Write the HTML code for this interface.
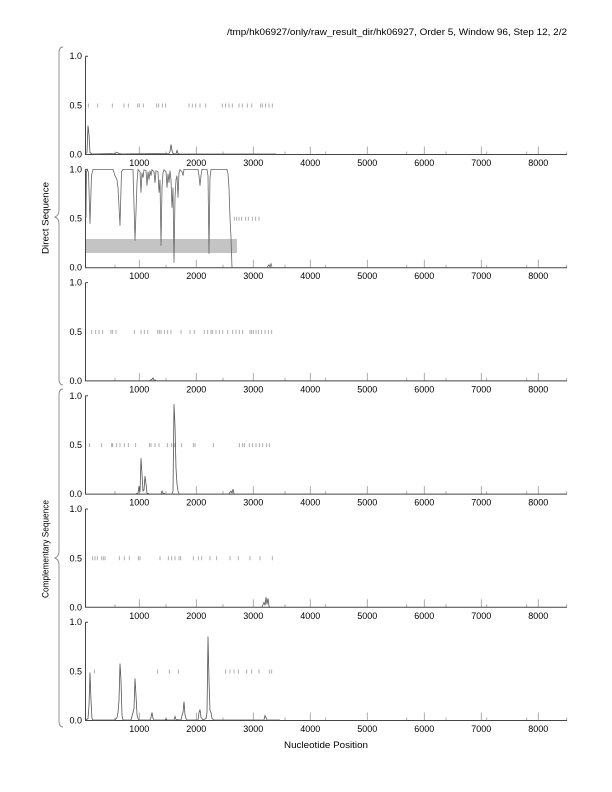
<!DOCTYPE html>
<html><head><meta charset="utf-8"><style>
html,body{margin:0;padding:0;background:#fff;}
svg{display:block;font-family:"Liberation Sans",Arial,sans-serif;}
</style></head><body>
<svg width="612" height="792" viewBox="0 0 612 792" xmlns="http://www.w3.org/2000/svg">
<defs>
<g id="ax">
<path d="M139.3,0v-8M196.3,0v-8M253.3,0v-8M310.3,0v-8M367.3,0v-8M424.3,0v-8M481.3,0v-8M538.3,0v-8" stroke="#999" stroke-width="0.8" fill="none"/>
<path d="M115,0v-3M166,0v-3M223,0v-3M285,0v-3M325.7,0v-3M406.7,0v-3M446,0v-3M486.7,0v-3M526.7,0v-3M566.7,0v-3" stroke="#999" stroke-width="0.8" fill="none"/>
<path d="M85.5,-98.3V0H567M85.5,-98.3H88" stroke="#444" stroke-width="1" fill="none"/>
</g>
</defs>
<text x="567" y="35" font-size="9" text-anchor="end" textLength="340" lengthAdjust="spacingAndGlyphs">/tmp/hk06927/only/raw_result_dir/hk06927, Order 5, Window 96, Step 12, 2/2</text>

<!-- braces -->
<path d="M63,47 Q59,47 59,53 L59,210 Q59,216 54.5,217 Q59,218 59,224 L59,379 Q59,385 63,385" stroke="#888" stroke-width="0.9" fill="none"/>
<path d="M63,389 Q59,389 59,395 L59,551 Q59,557 54.5,558 Q59,559 59,565 L59,721 Q59,727 63,727" stroke="#888" stroke-width="0.9" fill="none"/>
<text transform="translate(48.5,218) rotate(-90)" font-size="9" text-anchor="middle" textLength="72" lengthAdjust="spacingAndGlyphs">Direct Sequence</text>
<text transform="translate(48.5,549) rotate(-90)" font-size="9" text-anchor="middle" textLength="98" lengthAdjust="spacingAndGlyphs">Complementary Sequence</text>
<text x="326" y="748" font-size="9" text-anchor="middle" textLength="84" lengthAdjust="spacingAndGlyphs">Nucleotide Position</text>

<!-- Panel 1 -->
<g transform="translate(0,154.5)">
<use href="#ax"/>
<g font-size="9" text-anchor="end"><text x="82" y="-95.3">1.0</text><text x="82" y="-46">0.5</text><text x="82" y="3">0.0</text></g>
<g font-size="9" text-anchor="middle"><text x="139.3" y="11.5">1000</text><text x="196.3" y="11.5">2000</text><text x="253.3" y="11.5">3000</text><text x="310.3" y="11.5">4000</text><text x="367.3" y="11.5">5000</text><text x="424.3" y="11.5">6000</text><text x="481.3" y="11.5">7000</text><text x="538.3" y="11.5">8000</text></g>
<path d="M88.3,-51v4M97.7,-51v4M112.3,-51v4M124,-51v4M128.3,-51v4M137.7,-51v4M139.3,-51v4M143.3,-51v4M156.7,-51v4M158.7,-51v4M162.3,-51v4M165.7,-51v4M189,-51v4M192.3,-51v4M195.7,-51v4M200,-51v4M205.7,-51v4M222.3,-51v4M225.7,-51v4M229,-51v4M232.3,-51v4M239,-51v4M242.3,-51v4M247.3,-51v4M251.7,-51v4M260.7,-51v4M262.3,-51v4M265.7,-51v4M269,-51v4M272.3,-51v4" stroke="#999" stroke-width="0.8"/>
<path d="M86,-1 L87,-2 L88,-29 L89,-20 L90,-2 L92,-0.5 L115,-1 L117,-2 L119,-1 L122,-0.5 L169,-1 L170,-3 L171,-10 L172,-4 L173,-1 L176,-0.5 L177,-4 L178,-1 L180,-0.5 L276,-0.5" stroke="#555" stroke-width="0.8" fill="none"/>
</g>

<!-- Panel 2 -->
<g transform="translate(0,267.7)">
<rect x="86" y="-28.7" width="151" height="14" fill="#c4c4c4"/>
<use href="#ax"/>
<g font-size="9" text-anchor="end"><text x="82" y="-95.3">1.0</text><text x="82" y="-46">0.5</text><text x="82" y="3">0.0</text></g>
<g font-size="9" text-anchor="middle"><text x="139.3" y="11.5">1000</text><text x="196.3" y="11.5">2000</text><text x="253.3" y="11.5">3000</text><text x="310.3" y="11.5">4000</text><text x="367.3" y="11.5">5000</text><text x="424.3" y="11.5">6000</text><text x="481.3" y="11.5">7000</text><text x="538.3" y="11.5">8000</text></g>
<path d="M234.3,-51v4M236.7,-51v4M239,-51v4M241.7,-51v4M245.7,-51v4M248.3,-51v4M252.3,-51v4M255.7,-51v4M259,-51v4" stroke="#999" stroke-width="0.8"/>
<path d="M86,-50 L86.5,-96 L87.5,-98 L88.5,-95 L90,-44 L91.5,-92 L93,-98.3 L113,-98.3 L115,-92 L117,-88 L118,-80 L120,-42 L121.5,-96 L123,-98.3 L133,-98.3 L135,-27 L137,-85 L138,-98 L140,-96 L141,-75 L142,-95 L143,-90 L144,-98 L146,-97 L147,-82 L148,-96 L149,-88 L150,-97 L151,-92 L152,-98 L154,-96 L155,-85 L156,-97 L158,-96 L159,-75 L160,-88 L161,-22 L162,-80 L163,-95 L164,-98 L166,-96 L167,-80 L168,-94 L169,-85 L170,-97 L171,-88 L172,-60 L173,-80 L174,-5 L175,-70 L176,-88 L177,-92 L178,-70 L179,-95 L180,-98 L182,-96 L183,-92 L184,-98.3 L198,-98.3 L199,-92 L200,-82 L201,-92 L202,-98.3 L207,-98.3 L208,-92 L209,-14 L210,-90 L211,-98.3 L227,-98.3 L228,-94 L229,-80 L230,-50 L231,-30 L232,0 M267,-0.5 L269,-3 L270,-0.5 L271,-4 L272,-1" stroke="#666" stroke-width="0.8" fill="none"/>
</g>

<!-- Panel 3 -->
<g transform="translate(0,380.9)">
<use href="#ax"/>
<g font-size="9" text-anchor="end"><text x="82" y="-95.3">1.0</text><text x="82" y="-46">0.5</text><text x="82" y="3">0.0</text></g>
<g font-size="9" text-anchor="middle"><text x="139.3" y="11.5">1000</text><text x="196.3" y="11.5">2000</text><text x="253.3" y="11.5">3000</text><text x="310.3" y="11.5">4000</text><text x="367.3" y="11.5">5000</text><text x="424.3" y="11.5">6000</text><text x="481.3" y="11.5">7000</text><text x="538.3" y="11.5">8000</text></g>
<path d="M91.7,-51v4M95.7,-51v4M99,-51v4M102.7,-51v4M111,-51v4M112.7,-51v4M116,-51v4M134.3,-51v4M141,-51v4M144.3,-51v4M147.7,-51v4M157.7,-51v4M159.3,-51v4M161,-51v4M164.3,-51v4M167.7,-51v4M171,-51v4M181,-51v4M190,-51v4M194.3,-51v4M204.3,-51v4M207.7,-51v4M211,-51v4M212.7,-51v4M216,-51v4M219.3,-51v4M222.7,-51v4M227.7,-51v4M232.7,-51v4M236,-51v4M239.3,-51v4M242.7,-51v4M250,-51v4M251.7,-51v4M253.3,-51v4M256,-51v4M258.3,-51v4M261.7,-51v4M265,-51v4M268.3,-51v4M271.7,-51v4" stroke="#999" stroke-width="0.8"/>
<path d="M150,-0.5 L152,-1.5 L153,-3 L154,-1 L156,-0.5" stroke="#555" stroke-width="0.8" fill="none"/>
</g>

<!-- Panel 4 -->
<g transform="translate(0,494.1)">
<use href="#ax"/>
<g font-size="9" text-anchor="end"><text x="82" y="-95.3">1.0</text><text x="82" y="-46">0.5</text><text x="82" y="3">0.0</text></g>
<g font-size="9" text-anchor="middle"><text x="139.3" y="11.5">1000</text><text x="196.3" y="11.5">2000</text><text x="253.3" y="11.5">3000</text><text x="310.3" y="11.5">4000</text><text x="367.3" y="11.5">5000</text><text x="424.3" y="11.5">6000</text><text x="481.3" y="11.5">7000</text><text x="538.3" y="11.5">8000</text></g>
<path d="M89.3,-51v4M101.7,-51v4M111.7,-51v4M112.7,-51v4M116.7,-51v4M120,-51v4M124.3,-51v4M128.3,-51v4M135.7,-51v4M149.3,-51v4M151,-51v4M155,-51v4M159,-51v4M167.3,-51v4M171.7,-51v4M174.3,-51v4M181.7,-51v4M193.3,-51v4M195,-51v4M213.3,-51v4M239.3,-51v4M242.7,-51v4M244.3,-51v4M249.3,-51v4M252.7,-51v4M256,-51v4M259.3,-51v4M262.7,-51v4M266.7,-51v4M269.3,-51v4" stroke="#999" stroke-width="0.8"/>
<path d="M136,-0.5 L138,-1 L139,-8 L140,-2 L141,-36 L142,-20 L143,-3 L144,-4 L145,-18 L146,-10 L147,-1 L149,-0.5 M161,-0.5 L162,-3 L163,-1 L165,-0.5 M172,-0.5 L173,-3 L174,-90 L175,-68 L176,-26 L177,-10 L178,-3 L179,-0.5 M229,-0.5 L231,-3 L232,-1 L233,-5 L234,-0.5" stroke="#555" stroke-width="0.8" fill="none"/>
</g>

<!-- Panel 5 -->
<g transform="translate(0,607.3)">
<use href="#ax"/>
<g font-size="9" text-anchor="end"><text x="82" y="-95.3">1.0</text><text x="82" y="-46">0.5</text><text x="82" y="3">0.0</text></g>
<g font-size="9" text-anchor="middle"><text x="139.3" y="11.5">1000</text><text x="196.3" y="11.5">2000</text><text x="253.3" y="11.5">3000</text><text x="310.3" y="11.5">4000</text><text x="367.3" y="11.5">5000</text><text x="424.3" y="11.5">6000</text><text x="481.3" y="11.5">7000</text><text x="538.3" y="11.5">8000</text></g>
<path d="M92.7,-51v4M95,-51v4M97.3,-51v4M101.7,-51v4M103.3,-51v4M105,-51v4M119.3,-51v4M124.3,-51v4M129.3,-51v4M138.3,-51v4M140,-51v4M160,-51v4M168.3,-51v4M171.7,-51v4M175,-51v4M179,-51v4M180.7,-51v4M193.3,-51v4M198.3,-51v4M201.7,-51v4M210,-51v4M216.7,-51v4M230,-51v4M238.3,-51v4M250,-51v4M260,-51v4M272.3,-51v4" stroke="#999" stroke-width="0.8"/>
<path d="M262,-0.5 L264,-5 L265,-2 L266,-10 L267,-3 L268,-9 L269,-1 L270,-0.5" stroke="#555" stroke-width="0.8" fill="none"/>
</g>

<!-- Panel 6 -->
<g transform="translate(0,720.5)">
<use href="#ax"/>
<g font-size="9" text-anchor="end"><text x="82" y="-95.3">1.0</text><text x="82" y="-46">0.5</text><text x="82" y="3">0.0</text></g>
<g font-size="9" text-anchor="middle"><text x="139.3" y="11.5">1000</text><text x="196.3" y="11.5">2000</text><text x="253.3" y="11.5">3000</text><text x="310.3" y="11.5">4000</text><text x="367.3" y="11.5">5000</text><text x="424.3" y="11.5">6000</text><text x="481.3" y="11.5">7000</text><text x="538.3" y="11.5">8000</text></g>
<path d="M94.3,-51v4M157.7,-51v4M169.3,-51v4M178.3,-51v4M225.7,-51v4M230,-51v4M234,-51v4M238.3,-51v4M246.7,-51v4M251.7,-51v4M259,-51v4M269.3,-51v4M271.7,-51v4" stroke="#999" stroke-width="0.8"/>
<path d="M86,-0.5 L88,-2 L89,-15 L90,-48 L91,-20 L92,-2 L93,-0.5 L115,-0.5 L117,-3 L118,-8 L119,-20 L120,-57 L121,-40 L122,-5 L123,-0.5 L131,-0.5 L133,-8 L134,-12 L135,-42 L136,-25 L137,-6 L138,-2 L139,-0.5 L150,-0.5 L151,-3 L152,-8 L153,-2 L154,-0.5 L165,-0.5 L166,-2 L167,-0.5 L174,-0.5 L175,-4 L176,-1 L181,-0.5 L182,-5 L183,-8 L184,-19 L185,-6 L186,-2 L187,-0.5 L198,-0.5 L199,-8 L200,-11 L201,-3 L202,-2 L203,-0.5 L206,-2 L207,-8 L208,-84 L209,-40 L210,-10 L211,-8 L212,-2 L214,-0.5 L264,-0.5 L265,-5 L266,-3 L267,-0.5 L280,-0.5" stroke="#555" stroke-width="0.8" fill="none"/>
</g>
</svg>
</body></html>
